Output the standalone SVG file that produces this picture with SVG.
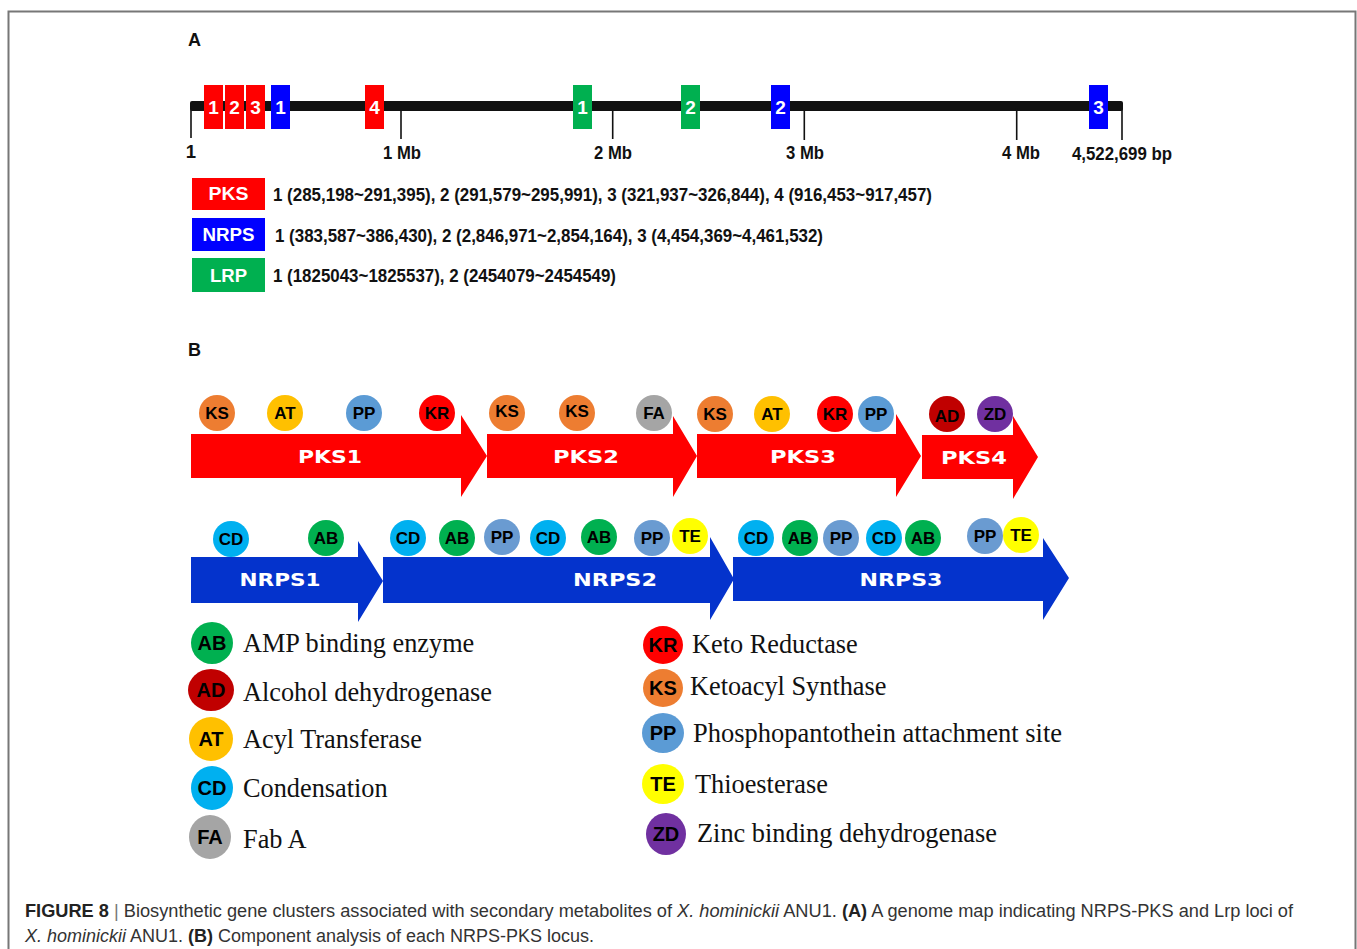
<svg xmlns="http://www.w3.org/2000/svg" width="1357" height="949" viewBox="0 0 1357 949">
<style>
.b{font-family:"Liberation Sans",Arial,sans-serif;font-weight:bold}
.bw{font-family:"Liberation Sans",Arial,sans-serif;font-weight:bold;fill:#fff;text-anchor:middle}
.ax{font-family:"Liberation Sans",Arial,sans-serif;font-weight:bold;font-size:18.5px;fill:#111;text-anchor:middle}
.ct{font-family:"Liberation Sans",Arial,sans-serif;font-weight:bold;font-size:17px;fill:#000;text-anchor:middle}
.lt{font-family:"Liberation Sans",Arial,sans-serif;font-weight:bold;font-size:20px;fill:#000;text-anchor:middle}
.ser{font-family:"Liberation Serif","Times New Roman",serif;font-size:26.3px;fill:#111}
.arw{font-family:"DejaVu Sans",sans-serif;font-weight:bold;font-size:18.5px;fill:#fff;text-anchor:middle}
.tick{stroke:#111;stroke-width:1.6;fill:none}
.red{fill:#ff0000}.blue{fill:#0000ff}.green{fill:#00b050}.nb{fill:#0433cc}
.KS{fill:#ed7d31}.AT{fill:#ffc000}.PP{fill:#5b9bd5}.KR{fill:#ff0000}.FA{fill:#a5a5a5}.AD{fill:#c00000}.ZD{fill:#7030a0}.CD{fill:#00b0f0}.AB{fill:#00b050}.TE{fill:#ffff00}.PP2{fill:#6a9bd1}
.cap{font-family:"Liberation Sans",Arial,sans-serif;font-size:17.5px;fill:#333}
</style>
<rect width="1357" height="949" fill="#fff"/>
<path d="M8.5,960 V11.5 H1355.5 V960" fill="none" stroke="#777" stroke-width="2"/>

<!-- Panel A -->
<text class="b" x="188" y="46" font-size="18" fill="#111">A</text>
<g id="chromosome">
  <rect x="190" y="101" width="933" height="10" rx="2" fill="#111"/>
  <path class="tick" d="M191,106 V138 M401,110 V139 M612.7,110 V139 M804.3,110 V140 M1016.7,108 V140 M1122,108 V140"/>
  <text class="ax" x="191" y="158">1</text>
  <text class="ax" x="402" y="159" textLength="38" lengthAdjust="spacingAndGlyphs">1 Mb</text>
  <text class="ax" x="613" y="159" textLength="38" lengthAdjust="spacingAndGlyphs">2 Mb</text>
  <text class="ax" x="805" y="159" textLength="38" lengthAdjust="spacingAndGlyphs">3 Mb</text>
  <text class="ax" x="1021" y="159" textLength="38" lengthAdjust="spacingAndGlyphs">4 Mb</text>
  <text class="ax" x="1122" y="160" textLength="100" lengthAdjust="spacingAndGlyphs">4,522,699 bp</text>
</g>
<g id="locus-pks1"><rect class="red" x="204" y="85" width="19" height="44"/><text class="bw" x="213.5" y="114" font-size="19">1</text></g>
<g id="locus-pks2"><rect class="red" x="225" y="85" width="19" height="44"/><text class="bw" x="234.5" y="114" font-size="19">2</text></g>
<g id="locus-pks3"><rect class="red" x="246" y="85" width="19" height="44"/><text class="bw" x="255.5" y="114" font-size="19">3</text></g>
<g id="locus-nrps1"><rect class="blue" x="271" y="85" width="19" height="44"/><text class="bw" x="280.5" y="114" font-size="19">1</text></g>
<g id="locus-pks4"><rect class="red" x="365" y="85" width="19" height="44"/><text class="bw" x="374.5" y="114" font-size="19">4</text></g>
<g id="locus-lrp1"><rect class="green" x="573" y="85" width="19" height="44"/><text class="bw" x="582.5" y="114" font-size="19">1</text></g>
<g id="locus-lrp2"><rect class="green" x="681" y="85" width="19" height="44"/><text class="bw" x="690.5" y="114" font-size="19">2</text></g>
<g id="locus-nrps2"><rect class="blue" x="771" y="85" width="19" height="44"/><text class="bw" x="780.5" y="114" font-size="19">2</text></g>
<g id="locus-nrps3"><rect class="blue" x="1089" y="85" width="19" height="44"/><text class="bw" x="1098.5" y="114" font-size="19">3</text></g>

<g id="key-pks">
  <rect class="red" x="192" y="178" width="73" height="32"/>
  <text class="bw" x="228.5" y="200" font-size="19" textLength="40" lengthAdjust="spacingAndGlyphs">PKS</text>
  <text class="b" x="273" y="201" font-size="19" fill="#111" textLength="659" lengthAdjust="spacingAndGlyphs">1 (285,198~291,395), 2 (291,579~295,991), 3 (321,937~326,844), 4 (916,453~917,457)</text>
</g>
<g id="key-nrps">
  <rect class="blue" x="192" y="218" width="73" height="33"/>
  <text class="bw" x="228.5" y="241" font-size="19" textLength="52" lengthAdjust="spacingAndGlyphs">NRPS</text>
  <text class="b" x="275" y="242" font-size="19" fill="#111" textLength="548" lengthAdjust="spacingAndGlyphs">1 (383,587~386,430), 2 (2,846,971~2,854,164), 3 (4,454,369~4,461,532)</text>
</g>
<g id="key-lrp">
  <rect class="green" x="192" y="258" width="73" height="34"/>
  <text class="bw" x="228.5" y="282" font-size="19" textLength="37" lengthAdjust="spacingAndGlyphs">LRP</text>
  <text class="b" x="273" y="282" font-size="19" fill="#111" textLength="343" lengthAdjust="spacingAndGlyphs">1 (1825043~1825537), 2 (2454079~2454549)</text>
</g>

<!-- Panel B -->
<text class="b" x="188" y="356" font-size="18" fill="#111">B</text>
<g id="PKS1">
  <path class="red" d="M191,434 H461 V415 L487,456 L461,497 V478 H191 Z"/>
  <text class="arw" x="330" y="463" textLength="64" lengthAdjust="spacingAndGlyphs">PKS1</text>
</g>
<g id="PKS2">
  <path class="red" d="M487,434 H673 V416 L697,456 L673,497 V478 H487 Z"/>
  <text class="arw" x="586" y="463" textLength="66" lengthAdjust="spacingAndGlyphs">PKS2</text>
</g>
<g id="PKS3">
  <path class="red" d="M697,434 H896 V414 L921,456 L896,497 V478 H697 Z"/>
  <text class="arw" x="803" y="463" textLength="66" lengthAdjust="spacingAndGlyphs">PKS3</text>
</g>
<g id="PKS4">
  <path class="red" d="M922,435 H1013 V416 L1038,457 L1013,499 V479 H922 Z"/>
  <text class="arw" x="974" y="464" textLength="66" lengthAdjust="spacingAndGlyphs">PKS4</text>
</g>
<g id="NRPS1">
  <path class="nb" d="M191,557 H358 V541 L383,581 L358,622 V603 H191 Z"/>
  <text class="arw" x="280" y="586" textLength="81" lengthAdjust="spacingAndGlyphs">NRPS1</text>
</g>
<g id="NRPS2">
  <path class="nb" d="M383,557 H710 V537 L734,579 L710,620 V603 H383 Z"/>
  <text class="arw" x="615" y="586" textLength="84" lengthAdjust="spacingAndGlyphs">NRPS2</text>
</g>
<g id="NRPS3">
  <path class="nb" d="M733,557 H1043 V538 L1069,578 L1043,620 V601 H733 Z"/>
  <text class="arw" x="901" y="586" textLength="83" lengthAdjust="spacingAndGlyphs">NRPS3</text>
</g>

<g id="pks-domains">
  <g id="d-ks1"><circle class="KS" cx="217" cy="413" r="18"/><text class="ct" x="217" y="419">KS</text></g>
  <g id="d-at1"><circle class="AT" cx="285" cy="413" r="18"/><text class="ct" x="285" y="419">AT</text></g>
  <g id="d-pp1"><circle class="PP" cx="364" cy="413" r="18"/><text class="ct" x="364" y="419">PP</text></g>
  <g id="d-kr1"><circle class="KR" cx="437" cy="413" r="18"/><text class="ct" x="437" y="419">KR</text></g>
  <g id="d-ks2"><circle class="KS" cx="507" cy="413" r="18"/><text class="ct" x="507" y="417">KS</text></g>
  <g id="d-ks3"><circle class="KS" cx="577" cy="413" r="18"/><text class="ct" x="577" y="417">KS</text></g>
  <g id="d-fa"><circle class="FA" cx="654" cy="413" r="18"/><text class="ct" x="654" y="419">FA</text></g>
  <g id="d-ks4"><circle class="KS" cx="715" cy="414" r="18"/><text class="ct" x="715" y="420">KS</text></g>
  <g id="d-at2"><circle class="AT" cx="772" cy="414" r="18"/><text class="ct" x="772" y="420">AT</text></g>
  <g id="d-kr2"><circle class="KR" cx="835" cy="414" r="18"/><text class="ct" x="835" y="420">KR</text></g>
  <g id="d-pp2"><circle class="PP" cx="876" cy="414" r="18"/><text class="ct" x="876" y="420">PP</text></g>
  <g id="d-ad"><circle class="AD" cx="947" cy="414" r="18"/><text class="ct" x="947" y="422">AD</text></g>
  <g id="d-zd"><circle class="ZD" cx="995" cy="414" r="18"/><text class="ct" x="995" y="420">ZD</text></g>
</g>
<g id="nrps-domains">
  <g id="n-cd1"><circle class="CD" cx="231" cy="539" r="18"/><text class="ct" x="231" y="545">CD</text></g>
  <g id="n-ab1"><circle class="AB" cx="326" cy="538" r="18"/><text class="ct" x="326" y="544">AB</text></g>
  <g id="n-cd2"><circle class="CD" cx="408" cy="538" r="18"/><text class="ct" x="408" y="544">CD</text></g>
  <g id="n-ab2"><circle class="AB" cx="457" cy="538" r="18"/><text class="ct" x="457" y="544">AB</text></g>
  <g id="n-pp1"><circle class="PP2" cx="502" cy="537" r="18"/><text class="ct" x="502" y="543">PP</text></g>
  <g id="n-cd3"><circle class="CD" cx="548" cy="538" r="18"/><text class="ct" x="548" y="544">CD</text></g>
  <g id="n-ab3"><circle class="AB" cx="599" cy="537" r="18"/><text class="ct" x="599" y="543">AB</text></g>
  <g id="n-pp2"><circle class="PP2" cx="652" cy="538" r="18"/><text class="ct" x="652" y="544">PP</text></g>
  <g id="n-te1"><circle class="TE" cx="690" cy="536" r="18"/><text class="ct" x="690" y="542">TE</text></g>
  <g id="n-cd4"><circle class="CD" cx="756" cy="538" r="18"/><text class="ct" x="756" y="544">CD</text></g>
  <g id="n-ab4"><circle class="AB" cx="800" cy="538" r="18"/><text class="ct" x="800" y="544">AB</text></g>
  <g id="n-pp3"><circle class="PP2" cx="841" cy="538" r="18"/><text class="ct" x="841" y="544">PP</text></g>
  <g id="n-cd5"><circle class="CD" cx="884" cy="538" r="18"/><text class="ct" x="884" y="544">CD</text></g>
  <g id="n-ab5"><circle class="AB" cx="923" cy="538" r="18"/><text class="ct" x="923" y="544">AB</text></g>
  <g id="n-pp4"><circle class="PP2" cx="985" cy="536" r="18"/><text class="ct" x="985" y="542">PP</text></g>
  <g id="n-te2"><circle class="TE" cx="1021" cy="535" r="18"/><text class="ct" x="1021" y="541">TE</text></g>
</g>

<g id="legend">
  <g id="lg-ab"><ellipse class="AB" cx="212" cy="643" rx="21" ry="21"/><text class="lt" x="212" y="650">AB</text><text class="ser" x="243" y="652">AMP binding enzyme</text></g>
  <g id="lg-ad"><ellipse class="AD" cx="211" cy="690" rx="23" ry="21"/><text class="lt" x="211" y="697">AD</text><text class="ser" x="243" y="701">Alcohol dehydrogenase</text></g>
  <g id="lg-at"><ellipse class="AT" cx="211" cy="739" rx="22" ry="22"/><text class="lt" x="211" y="746">AT</text><text class="ser" x="243" y="748">Acyl Transferase</text></g>
  <g id="lg-cd"><ellipse class="CD" cx="212" cy="788" rx="21" ry="22"/><text class="lt" x="212" y="795">CD</text><text class="ser" x="243" y="797">Condensation</text></g>
  <g id="lg-fa"><ellipse class="FA" cx="210" cy="837" rx="21" ry="22"/><text class="lt" x="210" y="844">FA</text><text class="ser" x="243" y="848">Fab A</text></g>
  <g id="lg-kr"><ellipse class="KR" cx="663" cy="645" rx="20" ry="19"/><text class="lt" x="663" y="652">KR</text><text class="ser" x="692" y="653">Keto Reductase</text></g>
  <g id="lg-ks"><ellipse class="KS" cx="663" cy="688" rx="20" ry="19"/><text class="lt" x="663" y="695">KS</text><text class="ser" x="690" y="695">Ketoacyl Synthase</text></g>
  <g id="lg-pp"><ellipse class="PP" cx="663" cy="733" rx="21" ry="20"/><text class="lt" x="663" y="740">PP</text><text class="ser" x="693" y="742" textLength="369" lengthAdjust="spacingAndGlyphs">Phosphopantothein attachment site</text></g>
  <g id="lg-te"><ellipse class="TE" cx="663" cy="784" rx="21" ry="20"/><text class="lt" x="663" y="791">TE</text><text class="ser" x="695" y="793">Thioesterase</text></g>
  <g id="lg-zd"><ellipse class="ZD" cx="666" cy="834" rx="20" ry="21"/><text class="lt" x="666" y="841">ZD</text><text class="ser" x="697" y="842" textLength="300" lengthAdjust="spacingAndGlyphs">Zinc binding dehydrogenase</text></g>
</g>

<g id="caption">
  <text class="cap" x="25" y="917" textLength="1268" lengthAdjust="spacingAndGlyphs"><tspan font-weight="bold" fill="#222">FIGURE 8</tspan><tspan fill="#777"> | </tspan>Biosynthetic gene clusters associated with secondary metabolites of <tspan font-style="italic">X. hominickii</tspan> ANU1. <tspan font-weight="bold" fill="#222">(A)</tspan> A genome map indicating NRPS-PKS and Lrp loci of</text>
  <text class="cap" x="25" y="942" textLength="569" lengthAdjust="spacingAndGlyphs"><tspan font-style="italic">X. hominickii</tspan> ANU1. <tspan font-weight="bold" fill="#222">(B)</tspan> Component analysis of each NRPS-PKS locus.</text>
</g>
</svg>
